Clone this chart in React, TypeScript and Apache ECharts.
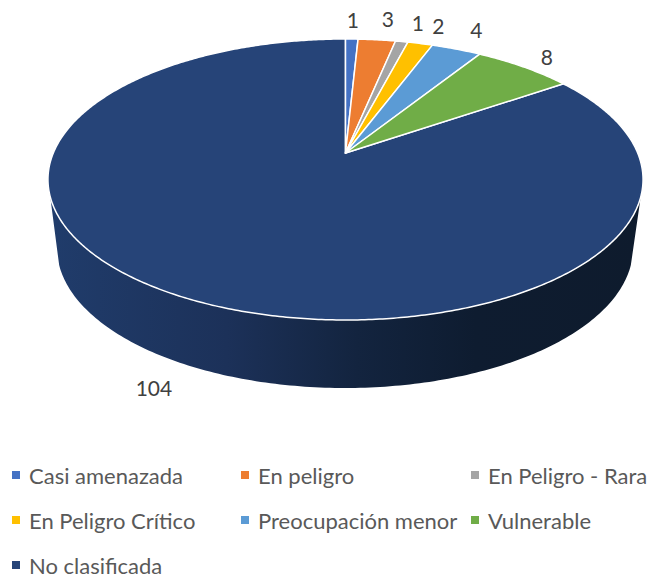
import React, { useEffect, useRef } from "react";
import * as echarts from "echarts";

const categories = [
  "Casi amenazada",
  "En peligro",
  "En Peligro - Rara",
  "En Peligro Crítico",
  "Preocupación menor",
  "Vulnerable",
  "No clasificada",
];
const speciesCounts = [1, 3, 1, 2, 4, 8, 104];
const sliceColors = ["#4472C4", "#ED7D31", "#A5A5A5", "#FFC000", "#5B9BD5", "#70AD47", "#264478"];

// Label nudges from the projected rim point at each slice's mid angle
const labelNudges = [[1, -20], [11, -21], [16, -19], [18, -18], [20, -20], [23, -11], [-28, 91]];

// Legend columns (indexes into categories)
const legendColumns = [
  { left: 12, items: [0, 3, 6] },
  { left: 241, items: [1, 4] },
  { left: 471, items: [2, 5] },
];

// Perspective view of the disc
const APEX_X = 345.5;
const APEX_Y = 153;
const PERSPECTIVE = 0.1886;
const SCALE_X = 292.2;
const SCALE_Y = 135.5;

const project = (theta: number, r = 1): number[] => {
  const u = Math.sin(theta) * r;
  const v = Math.cos(theta) * r;
  const w = 1 + PERSPECTIVE * v;
  return [APEX_X + (SCALE_X * u) / w, APEX_Y - (SCALE_Y * v) / w];
};

const wallPoints = (): number[][] => {
  const pts: number[][] = [];
  for (let d = 7; d <= 173; d += 1) {
    const a = (d * Math.PI) / 180;
    pts.push([345.5 + 297.5 * Math.cos(a), 179.5 + 140.5 * Math.sin(a)]);
  }
  for (let d = 173; d >= 7; d -= 1) {
    const a = (d * Math.PI) / 180;
    pts.push([345 + 288 * Math.cos(a), 248 + 140 * Math.sin(a)]);
  }
  return pts;
};

const total = speciesCounts.reduce((a, b) => a + b, 0);
const startOf = (i: number) => speciesCounts.slice(0, i).reduce((a, b) => a + b, 0);

const makeSeries = (name: string, i: number) => ({
  type: "custom",
  name,
  coordinateSystem: "none",
  silent: true,
  itemStyle: { color: sliceColors[i] },
  data: [[speciesCounts[i]]],
  z: i === speciesCounts.length - 1 ? 1 : 2,
  renderItem: (_params: any, api: any) => {
    const value = api.value(0);
    const a0 = (startOf(i) / total) * 2 * Math.PI;
    const a1 = a0 + (value / total) * 2 * Math.PI;
    const steps = Math.max(2, Math.ceil((a1 - a0) / 0.01));
    const points: number[][] = [[APEX_X, APEX_Y]];
    for (let s = 0; s <= steps; s++) points.push(project(a0 + ((a1 - a0) * s) / steps));
    const mid = project((a0 + a1) / 2);
    const children: any[] = [];
    if (i === speciesCounts.length - 1) {
      children.push({
        type: "polygon",
        shape: { points: wallPoints() },
        style: {
          fill: new echarts.graphic.LinearGradient(0, 0, 1, 0, [
            { offset: 0, color: "#203c6b" },
            { offset: 0.3, color: "#1c3159" },
            { offset: 0.52, color: "#13243f" },
            { offset: 0.72, color: "#0e1c30" },
            { offset: 1, color: "#0e1b2d" },
          ]),
        },
      });
    }
    children.push({
      type: "polygon",
      shape: { points },
      style: { fill: sliceColors[i], stroke: "#ffffff", lineWidth: 1.5, lineJoin: "round" },
    });
    children.push({
      type: "text",
      x: mid[0] + labelNudges[i][0],
      y: mid[1] + labelNudges[i][1],
      style: {
        text: String(value),
        fill: "#404040",
        fontSize: 21,
        fontFamily: "Lato",
        align: "center",
        verticalAlign: "middle",
      },
    });
    return { type: "group", children };
  },
});

export default function App() {
  const ref = useRef<HTMLDivElement>(null);
  useEffect(() => {
    const chart = echarts.init(ref.current!, undefined, { renderer: "svg" });
    chart.setOption({
      animation: false,
      backgroundColor: "#ffffff",
      legend: legendColumns.map((col) => ({
        orient: "vertical",
        left: col.left,
        top: 464,
        itemWidth: 8,
        itemHeight: 8,
        itemGap: 23,
        icon: "rect",
        selectedMode: false,
        padding: 0,
        data: col.items.map((k) => categories[k]),
        textStyle: { color: "#595959", fontSize: 22, fontFamily: "Lato", padding: [0, 0, 0, 4] },
      })),
      series: categories.map(makeSeries),
    });
    return () => chart.dispose();
  }, []);
  return <div ref={ref} style={{ position: "absolute", left: 0, top: 0, width: 652, height: 582 }} />;
}
